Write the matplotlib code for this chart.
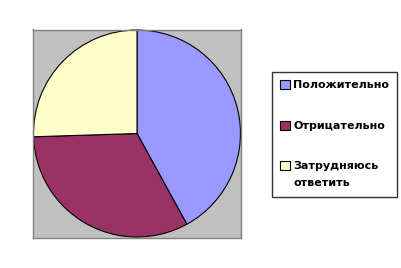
import matplotlib.pyplot as plt
from matplotlib.patches import Patch

labels = ["Положительно", "Отрицательно", "Затрудняюсь\nответить"]
values = [42.0, 32.5, 25.5]
colors = ["#9999FF", "#993366", "#FFFFCC"]

fig = plt.figure(figsize=(4.01, 2.68), dpi=100)
ax = fig.add_axes([33 / 401, 1 - 238 / 268, 208 / 401, 209 / 268])
ax.set_facecolor("#C0C0C0")
ax.pie(values, colors=colors, startangle=90, counterclock=False, frame=True,
       wedgeprops=dict(edgecolor="black", linewidth=0.8))
ax.set_xlim(-1.005, 1.005)
ax.set_ylim(-1.005, 1.005)
ax.set_xticks([])
ax.set_yticks([])
for s in ax.spines.values():
    s.set_color("#808080")
    s.set_linewidth(1)

handles = [Patch(facecolor=c, edgecolor="black", linewidth=0.8) for c in colors]
leg = fig.legend(handles, labels, loc="upper left",
                 bbox_to_anchor=(272 / 401, 1 - 72 / 268),
                 frameon=True, fancybox=False, edgecolor="black",
                 prop=dict(size=8, weight="semibold"), labelspacing=2.75,
                 handlelength=0.85, handleheight=0.85, handletextpad=0.3,
                 borderpad=0.75, borderaxespad=0)
leg.get_frame().set_linewidth(1)
for t in leg.get_texts():
    t.set_linespacing(1.85)
# keep the box next to the first line of a two-line label
for col in leg._legend_handle_box.get_children():
    for row in col.get_children():
        row.align = "top"

fig.savefig("out.png", dpi=100)
